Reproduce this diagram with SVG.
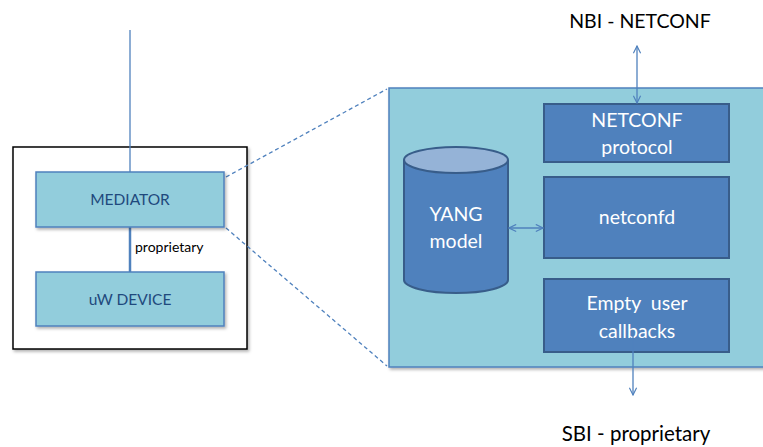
<svg xmlns="http://www.w3.org/2000/svg" width="763" height="447" viewBox="0 0 763 447">
<defs>
<filter id="sh" x="-10%" y="-10%" width="130%" height="130%">
<feDropShadow dx="1.5" dy="2" stdDeviation="1.5" flood-color="#000" flood-opacity="0.3"/>
</filter>
<marker id="ah" viewBox="0 0 10 10" refX="9" refY="5" markerWidth="9" markerHeight="9" orient="auto-start-reverse" markerUnits="userSpaceOnUse">
<path d="M1,1 L9,5 L1,9" fill="none" stroke="#4F81BD" stroke-width="1.3"/>
</marker>
<style>
.lt{fill:#92CDDC;stroke:#4F81BD;stroke-width:1.5}
.dk{fill:#4F81BD;stroke:#385D8A;stroke-width:2}
.t1{font-family:Lato,"Liberation Sans",sans-serif;font-size:15.5px;fill:#1F497D;text-anchor:middle}
.t2{font-family:Lato,"Liberation Sans",sans-serif;font-size:19.5px;fill:#fff;text-anchor:middle;white-space:pre}
.t3{font-family:Lato,"Liberation Sans",sans-serif;fill:#000;text-anchor:middle}
.ln{stroke:#4F81BD;stroke-width:1.3;fill:none}
.ds{stroke:#4F81BD;stroke-width:1.3;fill:none;stroke-dasharray:4,3}
</style>
</defs>
<g id="outer-box">
<rect x="13" y="147" width="234" height="202" fill="#fff" stroke="#000" stroke-width="1.5" filter="url(#sh)"/>
</g>
<g id="connectors">
<line class="ln" x1="130" y1="30" x2="130" y2="172"/>
<line x1="130" y1="227" x2="130" y2="272" stroke="#4F81BD" stroke-width="2.5"/>
<line class="ds" x1="226" y1="177" x2="387" y2="89"/>
<line class="ds" x1="226" y1="228" x2="387" y2="366"/>
</g>
<g id="mediator">
<rect class="lt" x="36" y="172" width="188" height="55" filter="url(#sh)"/>
<text class="t1" x="130" y="205">MEDIATOR</text>
</g>
<text x="135" y="252" font-family="Lato,'Liberation Sans',sans-serif" font-size="14" fill="#000">proprietary</text>
<g id="uw-device">
<rect class="lt" x="36" y="272" width="188" height="54" filter="url(#sh)"/>
<text class="t1" x="130" y="305">uW DEVICE</text>
</g>
<g id="panel">
<rect class="lt" x="389" y="88" width="380" height="279" filter="url(#sh)"/>
</g>
<g id="yang-model">
<path class="dk" d="M404,160 L404,280 A52,13 0 0 0 508,280 L508,160" />
<ellipse cx="456" cy="160" rx="52" ry="13" fill="#95B3D7" stroke="#385D8A" stroke-width="2"/>
<text class="t2" x="456" y="221">YANG</text>
<text class="t2" x="456" y="248">model</text>
</g>
<g id="netconf-protocol">
<rect class="dk" x="544" y="104" width="185" height="58"/>
<text class="t2" x="637" y="127">NETCONF</text>
<text class="t2" x="637" y="154">protocol</text>
</g>
<g id="netconfd">
<rect class="dk" x="544" y="177" width="185" height="81"/>
<text class="t2" x="637" y="224">netconfd</text>
</g>
<g id="callbacks">
<rect class="dk" x="544" y="279" width="185" height="73"/>
<text class="t2" x="637" y="310" xml:space="preserve">Empty  user</text>
<text class="t2" x="637" y="338">callbacks</text>
</g>
<g id="arrows">
<line class="ln" x1="637" y1="46" x2="637" y2="103" marker-start="url(#ah)" marker-end="url(#ah)"/>
<line class="ln" x1="509" y1="228" x2="543" y2="228" marker-start="url(#ah)" marker-end="url(#ah)"/>
<line class="ln" x1="633" y1="335" x2="633" y2="395" marker-end="url(#ah)"/>
</g>
<g id="labels">
<text class="t3" x="640" y="28" font-size="19.5">NBI - NETCONF</text>
<text class="t3" x="636" y="441" font-size="20.5">SBI - proprietary</text>
</g>
</svg>
